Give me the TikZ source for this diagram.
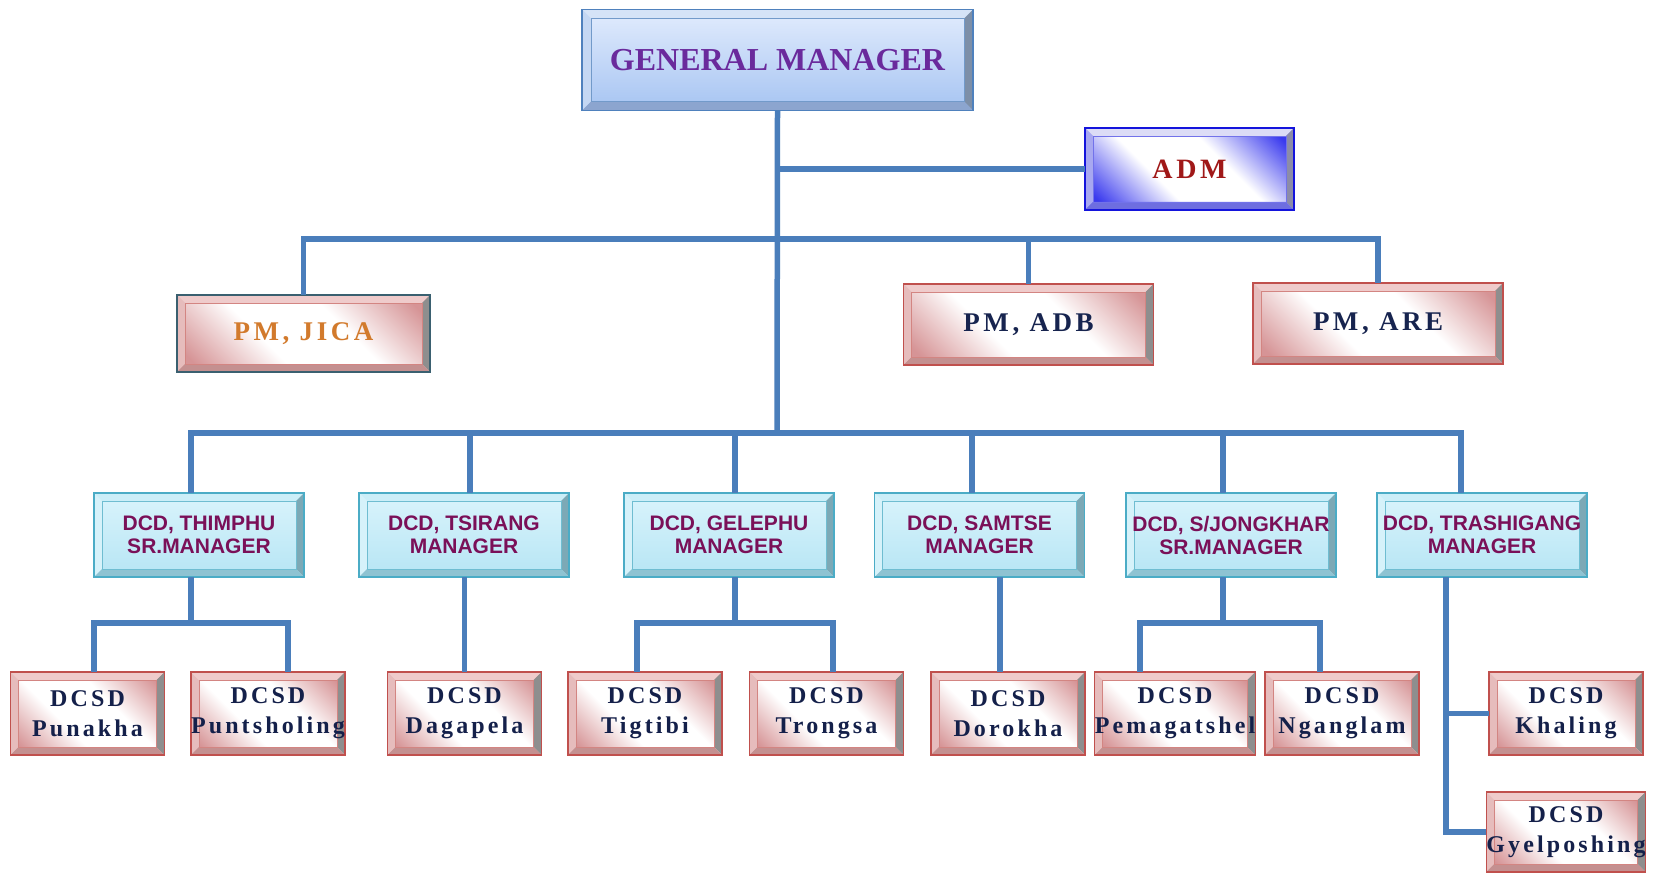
\documentclass[tikz,border=0pt]{standalone}
\usepackage{fontspec}
\setmainfont{Liberation Serif}
\newfontfamily\spacedf[LetterSpace=13]{Liberation Serif}
\newfontfamily\dcdf{Liberation Sans}
\usetikzlibrary{calc}
% colours
\definecolor{conn}{HTML}{4A7EBB}
\definecolor{gmB}{HTML}{4F81BD}\definecolor{gmT}{HTML}{E2ECFD}\definecolor{gmBo}{HTML}{A6C4F2}
\definecolor{gmbt}{HTML}{D5E3F7}\definecolor{gmbl}{HTML}{C4D7F3}\definecolor{gmbr}{HTML}{7D8FA8}\definecolor{gmbb}{HTML}{8CA5CF}
\definecolor{adB}{HTML}{1414DC}\definecolor{adC}{HTML}{3A3AEE}
\definecolor{adbt}{HTML}{DCDCF6}\definecolor{adbl}{HTML}{A8A8F0}\definecolor{adbr}{HTML}{8C8CA8}\definecolor{adbb}{HTML}{6E6EE0}
\definecolor{rdB}{HTML}{C0504D}\definecolor{rdC}{HTML}{D69496}
\definecolor{rdbt}{HTML}{EFCBCB}\definecolor{rdbl}{HTML}{E6BCBC}\definecolor{rdbr}{HTML}{8E8E8E}\definecolor{rdbb}{HTML}{C49090}
\definecolor{jiB}{HTML}{3A6070}
\definecolor{dcB}{HTML}{4BACC6}\definecolor{dcT}{HTML}{DAF4FC}\definecolor{dcBo}{HTML}{B6E5F4}
\definecolor{dcbt}{HTML}{CBEEF8}\definecolor{dcbl}{HTML}{D6F2FA}\definecolor{dcbr}{HTML}{7CA9B6}\definecolor{dcbb}{HTML}{8EC3D2}
\definecolor{tGM}{HTML}{6A2A9C}\definecolor{tAD}{HTML}{A01818}\definecolor{tJI}{HTML}{D27A2C}
\definecolor{tPM}{HTML}{17244F}\definecolor{tDC}{HTML}{7A1058}\definecolor{tDS}{HTML}{14204A}
\pgfdeclareverticalshading{redsh}{100bp}{color(0bp)=(rdC); color(20bp)=(rdC); color(40bp)=(white); color(60bp)=(white); color(80bp)=(rdC); color(100bp)=(rdC)}
\pgfdeclareverticalshading{bluesh}{100bp}{color(0bp)=(adC); color(20bp)=(adC); color(40bp)=(white); color(60bp)=(white); color(80bp)=(adC); color(100bp)=(adC)}
% bevel painter: top, left, right, bottom, width, inner line colour
\newcommand\bevelpaint[6]{%
  \fill[#1] let \p1=(path picture bounding box.south west), \p2=(path picture bounding box.north east) in
    (\x1,\y2) -- (\x2,\y2) -- ({\x2-#5},{\y2-#5}) -- ({\x1+#5},{\y2-#5}) -- cycle;
  \fill[#2] let \p1=(path picture bounding box.south west), \p2=(path picture bounding box.north east) in
    (\x1,\y1) -- (\x1,\y2) -- ({\x1+#5},{\y2-#5}) -- ({\x1+#5},{\y1+#5}) -- cycle;
  \fill[#3] let \p1=(path picture bounding box.south west), \p2=(path picture bounding box.north east) in
    (\x2,\y1) -- (\x2,\y2) -- ({\x2-#5},{\y2-#5}) -- ({\x2-#5},{\y1+#5}) -- cycle;
  \fill[#4] let \p1=(path picture bounding box.south west), \p2=(path picture bounding box.north east) in
    (\x1,\y1) -- (\x2,\y1) -- ({\x2-#5},{\y1+#5}) -- ({\x1+#5},{\y1+#5}) -- cycle;
  \draw[#6,line width=0.9pt] let \p1=(path picture bounding box.south west), \p2=(path picture bounding box.north east) in
    ({\x1+#5},{\y1+#5}) rectangle ({\x2-#5},{\y2-#5});
}
\tikzset{
  base/.style={rectangle, inner sep=0pt, outer sep=0pt, align=center, line width=1.3pt},
  gmbox/.style={base, draw=gmB, top color=gmT, bottom color=gmBo,
    minimum width=391pt, minimum height=101pt,
    path picture={\bevelpaint{gmbt}{gmbl}{gmbr}{gmbb}{9pt}{gmB!80}},
    font=\fontsize{32}{36}\selectfont\bfseries, text=tGM},
  admbox/.style={base, draw=adB, shading=bluesh, shading angle=-45,
    minimum width=209pt, minimum height=82pt,
    path picture={\bevelpaint{adbt}{adbl}{adbr}{adbb}{8pt}{adB!60}},
    font=\fontsize{28}{32}\selectfont\spacedf\bfseries, text=tAD},
  redbox/.style={base, draw=rdB, shading=redsh, shading angle=-45,
    path picture={\bevelpaint{rdbt}{rdbl}{rdbr}{rdbb}{8pt}{rdB!70}}},
  pmbox/.style={redbox, minimum width=250pt, minimum height=81pt,
    font=\fontsize{27}{30}\selectfont\spacedf\bfseries, text=tPM},
  jicabox/.style={pmbox, draw=jiB, text=tJI, minimum width=253pt, minimum height=77pt},
  dcdbox/.style={base, draw=dcB, top color=dcT, bottom color=dcBo,
    minimum width=210pt, minimum height=84pt,
    path picture={\bevelpaint{dcbt}{dcbl}{dcbr}{dcbb}{8pt}{dcB!80}},
    font=\fontsize{21}{23}\selectfont\dcdf\bfseries, text=tDC},
  dcsdbox/.style={redbox, minimum width=154pt, minimum height=83pt,
    font=\fontsize{24}{30}\selectfont\spacedf\bfseries, text=tDS},
  link/.style={draw=conn, line width=5.5pt}
}
\begin{document}
\begin{tikzpicture}[x=1pt,y=-1pt]
\useasboundingbox (0,0) rectangle (1656,874);
\coordinate (tb) at (777,239);
\coordinate (mb) at (777,433);
\coordinate (lb) at (0,623);
% boxes
\node[gmbox]  (gm)   at (777.5,60)    {GENERAL MANAGER};
\node[admbox] (adm)  at (1189.5,169)  {ADM};
\node[jicabox](jica) at (303.5,333.5) {PM, JICA};
\node[pmbox]  (adb)  at (1028.5,324.5){PM, ADB};
\node[pmbox]  (are)  at (1378,323.5)  {PM, ARE};
\node[dcdbox] (d1) at (199,535)    {DCD, THIMPHU\\SR.MANAGER};
\node[dcdbox] (d2) at (464,535)    {DCD, TSIRANG\\MANAGER};
\node[dcdbox] (d3) at (729,535)    {DCD, GELEPHU\\MANAGER};
\node[dcdbox] (d4) at (979.5,535)  {DCD, SAMTSE\\MANAGER};
\node[dcdbox] (d5) at (1231,535)   {DCD, S/JONGKHAR\\SR.MANAGER};
\node[dcdbox] (d6) at (1482,535)   {DCD, TRASHIGANG\\MANAGER};
\node[dcsdbox] (e1) at (87.5,713.5) {DCSD\\Punakha};
\node[dcsdbox] (e2) at (268,713.5)  {DCSD\\Puntsholing};
\node[dcsdbox] (e3) at (464.5,713.5){DCSD\\Dagapela};
\node[dcsdbox] (e4) at (645,713.5)  {DCSD\\Tigtibi};
\node[dcsdbox] (e5) at (826.5,713.5){DCSD\\Trongsa};
\node[dcsdbox] (e6) at (1008,713.5) {DCSD\\Dorokha};
\node[dcsdbox] (e7) at (1175,713.5) {DCSD\\Pemagatshel};
\node[dcsdbox] (e8) at (1342,713.5) {DCSD\\Nganglam};
\node[dcsdbox] (e9) at (1566,713.5) {DCSD\\Khaling};
\node[dcsdbox, minimum height=80pt] (e10) at (1566,832) {DCSD\\Gyelposhing};
% top level
\path[link] (gm.south) -- (mb);
\path[link] (adm.west) -- (adm.west -| gm.south);
\path[link] (jica.north) |- (are.north |- tb) -- (are.north);
\path[link] (adb.north) -- (adb.north |- tb);
% middle bus
\path[link] ([xshift=-8pt]d1.north) |- ([xshift=-21pt]d6.north |- mb) -- ([xshift=-21pt]d6.north);
\path[link] ([xshift=6pt]d2.north) -- ([xshift=6pt]d2.north |- mb);
\path[link] ([xshift=6pt]d3.north) -- ([xshift=6pt]d3.north |- mb);
\path[link] ([xshift=-7.5pt]d4.north) -- ([xshift=-7.5pt]d4.north |- mb);
\path[link] ([xshift=-8pt]d5.north) -- ([xshift=-8pt]d5.north |- mb);
% lower level
\path[link] ([xshift=-8pt]d1.south) -- ([xshift=-8pt]d1.south |- lb);
\path[link] ([xshift=6.5pt]e1.north) |- ([xshift=20pt]e2.north |- lb) -- ([xshift=20pt]e2.north);
\path[link] (e3.north |- d2.south) -- (e3.north);
\path[link] ([xshift=6pt]d3.south) -- ([xshift=6pt]d3.south |- lb);
\path[link] ([xshift=-8pt]e4.north) |- ([xshift=6.5pt]e5.north |- lb) -- ([xshift=6.5pt]e5.north);
\path[link] ([xshift=-8pt]e6.north |- d4.south) -- ([xshift=-8pt]e6.north);
\path[link] ([xshift=-8pt]d5.south) -- ([xshift=-8pt]d5.south |- lb);
\path[link] ([xshift=-35pt]e7.north) |- ([xshift=-22pt]e8.north |- lb) -- ([xshift=-22pt]e8.north);
\coordinate (tx) at ([xshift=-36pt]d6.south);
\path[link] (tx) |- (e10.west);
\path[link] (e9.west) -- (e9.west -| tx);
\end{tikzpicture}
\end{document}
